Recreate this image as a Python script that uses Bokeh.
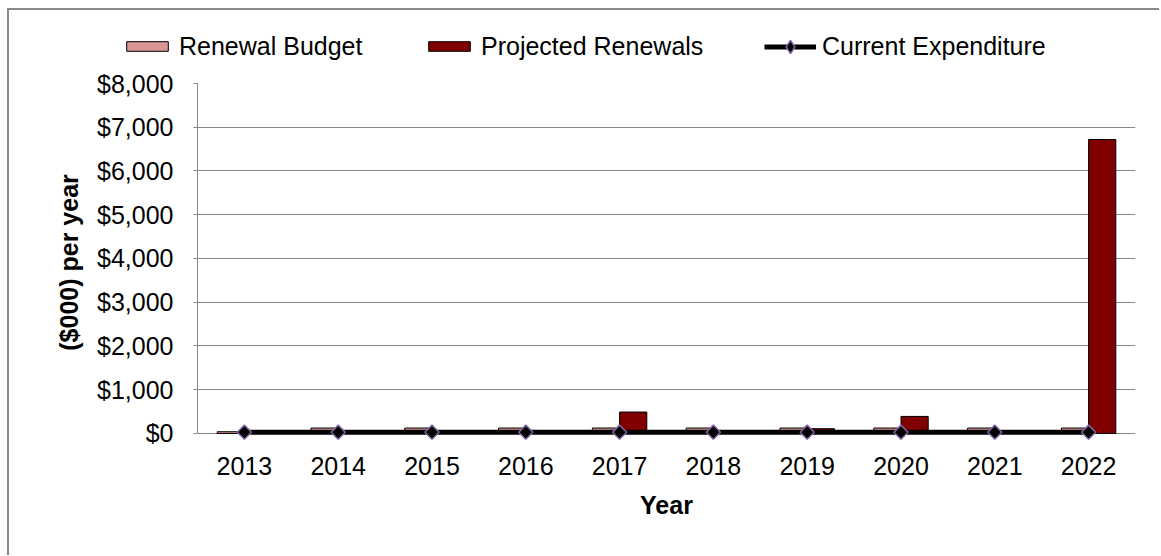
import math
from bokeh.plotting import figure
from bokeh.layouts import column
from bokeh.models import ColumnDataSource, FactorRange, Legend, LegendItem, NumeralTickFormatter, FixedTicker
from bokeh.transform import dodge
from bokeh.embed import file_html
from bokeh.resources import INLINE

years = ["2013", "2014", "2015", "2016", "2017", "2018", "2019", "2020", "2021", "2022"]
renewal_budget = [40, 125, 125, 125, 125, 125, 125, 125, 125, 125]
projected_renewals = [0, 0, 0, 0, 490, 0, 110, 390, 0, 6720]
current_expenditure = [30, 30, 30, 30, 30, 30, 30, 30, 30, 30]
y_ticks = [0, 1000, 2000, 3000, 4000, 5000, 6000, 7000, 8000]

src = ColumnDataSource(dict(year=years, budget=renewal_budget,
                            proj=projected_renewals, exp=current_expenditure))

FONT = "Liberation Sans"
FS = "25px"
GRID = "#868686"
BUDGET_COLOR = "#D99694"
PROJ_COLOR = "#800000"
MARK_LINE = "#8064A2"


def draw_series(fig, shift=0.0, marker="square", angle=math.pi / 4):
    a = fig.vbar(x=dodge("year", shift - 0.145, range=fig.x_range), top="budget", width=0.29, source=src,
                 fill_color=BUDGET_COLOR, line_color="black", line_width=1)
    b = fig.vbar(x=dodge("year", shift + 0.145, range=fig.x_range), top="proj", width=0.29, source=src,
                 fill_color=PROJ_COLOR, line_color="black", line_width=1)
    c = fig.line(x=dodge("year", shift, range=fig.x_range), y="exp", source=src,
                 line_color="black", line_width=5)
    d = fig.scatter(x=dodge("year", shift, range=fig.x_range), y="exp", source=src,
                    marker=marker, angle=angle, size=10,
                    fill_color="black", line_color=MARK_LINE, line_width=1.5)
    return a, b, c, d


# ---- legend strip (series shifted out of its visible range; only the legend shows) ----
leg = figure(x_range=FactorRange(*years, range_padding=0), y_range=(0, 8000),
             width=1150, height=55, output_backend="svg", toolbar_location=None,
             x_axis_location=None, y_axis_location=None,
             min_border_left=0, min_border_right=0, min_border_top=0, min_border_bottom=0)
try:
    leg.frame_align = False
except Exception:
    pass
leg.outline_line_color = None
leg.xgrid.grid_line_color = None
leg.ygrid.grid_line_color = None
l1, l2, l3, l4 = draw_series(leg, shift=1000.0, marker="diamond", angle=0.0)


def add_legend(label, renderers, vx, vy, gh):
    lg = Legend(items=[LegendItem(label=label, renderers=renderers)], location=(vx, vy),
                orientation="horizontal", padding=0, margin=0, spacing=0,
                border_line_color=None, background_fill_alpha=0,
                glyph_width=52, glyph_height=gh, label_height=gh, label_standoff=6,
                label_text_font=FONT, label_text_font_size=FS, label_text_color="black")
    leg.add_layout(lg, "center")


add_legend("Renewal Budget", [l1], 112, 4.5, 12)
add_legend("Projected Renewals", [l2], 414, 4.5, 12)
add_legend("Current Expenditure", [l3, l4], 755, 2.5, 33)

# ---- main chart ----
# the value axis starts slightly below zero so the markers at the base are not clipped;
# the $0 grid line serves as the category axis line
p = figure(x_range=FactorRange(*years, range_padding=0), y_range=(-183, 8000),
           width=1150, height=490, output_backend="svg", toolbar_location=None,
           min_border_left=188, min_border_top=18, min_border_right=24, min_border_bottom=114)
try:
    p.frame_align = False
except Exception:
    pass
p.outline_line_color = None
p.background_fill_color = "white"
draw_series(p)

p.xgrid.grid_line_color = None
p.ygrid.grid_line_color = GRID
p.ygrid.grid_line_width = 1
p.yaxis.ticker = FixedTicker(ticks=y_ticks)
p.yaxis.formatter = NumeralTickFormatter(format="$0,0")
p.yaxis.bounds = (0, 8000)
for ax in (p.xaxis[0], p.yaxis[0]):
    ax.axis_line_color = GRID
    ax.major_tick_line_color = GRID
    ax.minor_tick_line_color = None
    ax.major_label_text_font = FONT
    ax.major_label_text_font_size = FS
    ax.major_label_text_color = "black"
    ax.axis_label_text_font = FONT
    ax.axis_label_text_font_size = FS
    ax.axis_label_text_font_style = "bold"
    ax.axis_label_text_color = "black"
p.xaxis.axis_line_color = None
p.xaxis.major_tick_line_color = None
p.xaxis.major_label_standoff = 9
p.xaxis.axis_label = "Year"
p.xaxis.axis_label_standoff = 13
p.yaxis.major_tick_in = 0
p.yaxis.major_tick_out = 4
p.yaxis.major_label_standoff = 20
p.yaxis.axis_label = "($000) per year"
p.yaxis.axis_label_standoff = 11

page = column(leg, p, spacing=0)
page.styles = {"margin-left": "7px", "margin-top": "8px",
               "border-left": "2px solid #8a8a8a", "border-top": "2px solid #8a8a8a"}

open("out.html", "w").write(file_html(page, INLINE))
